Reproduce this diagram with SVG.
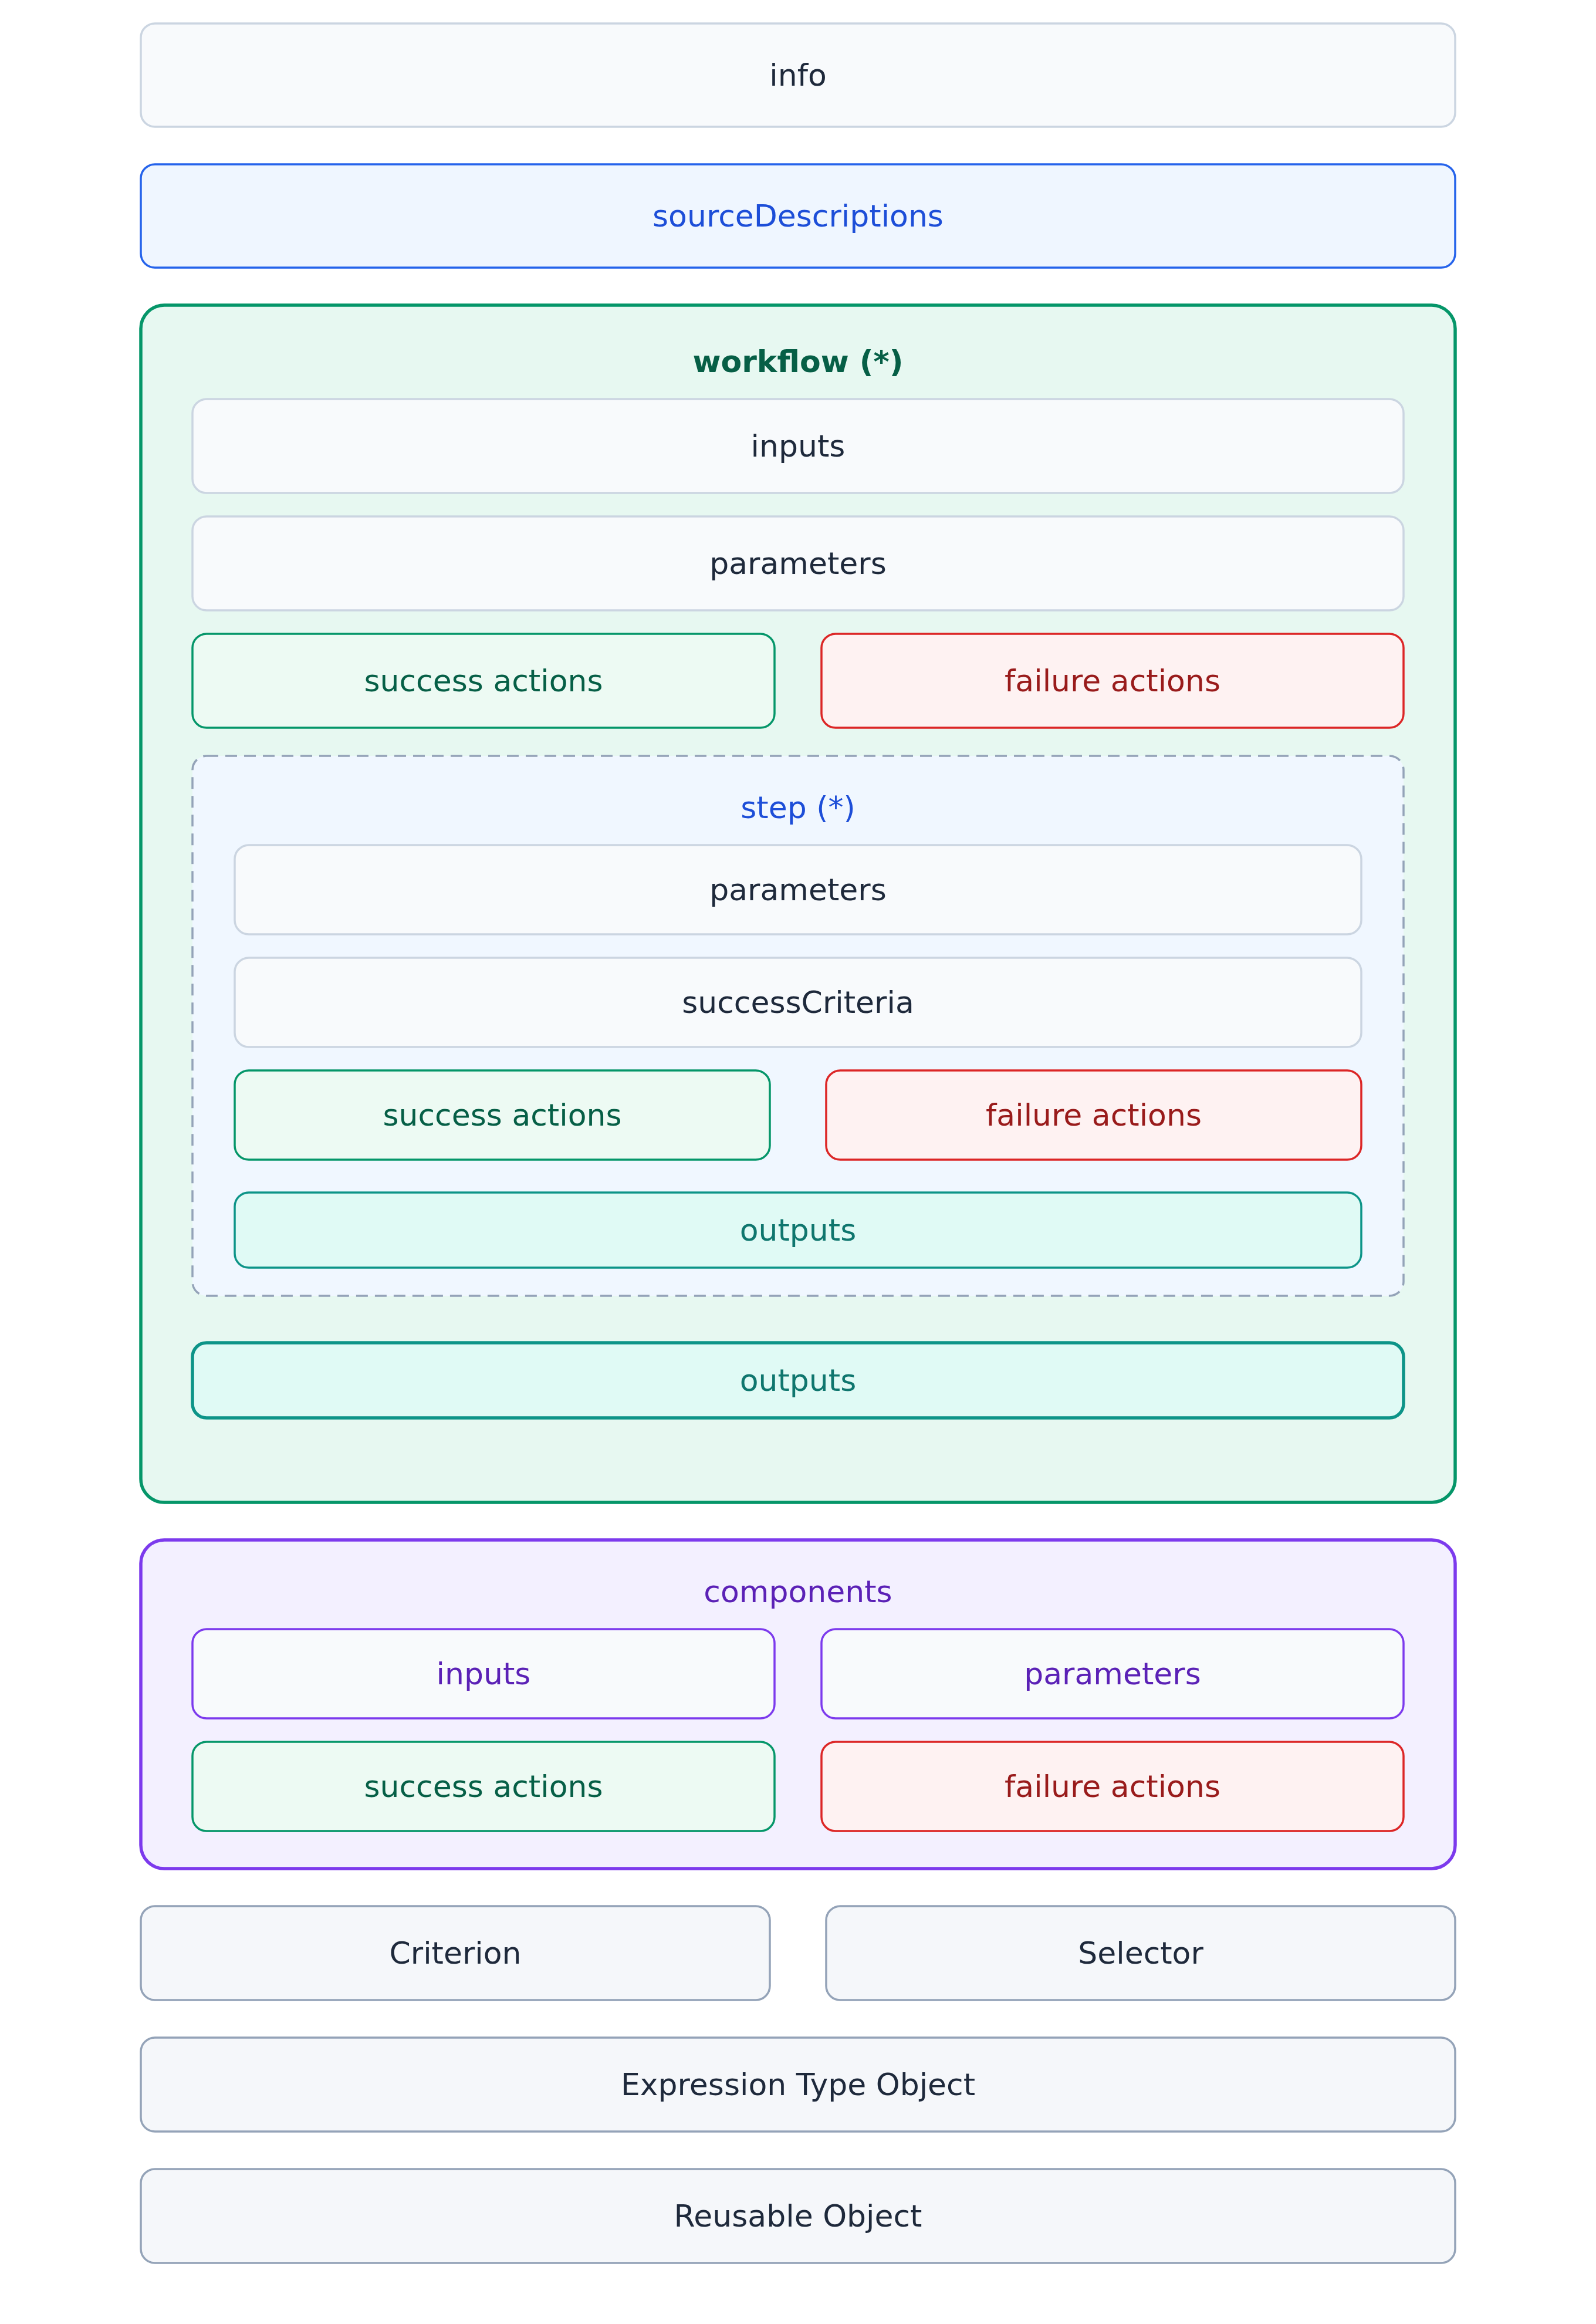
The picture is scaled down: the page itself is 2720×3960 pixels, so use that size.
<svg xmlns="http://www.w3.org/2000/svg" width="2720" height="3960" viewBox="0 0 2720 3960">
<style>
text{font-family:"DejaVu Sans","Liberation Sans",sans-serif;font-size:52px;text-anchor:middle;fill:#1e293b}
.plain{fill:#f8fafc;stroke:#cbd5e1;stroke-width:3.5}
.src{fill:#eff6ff;stroke:#2563eb;stroke-width:3.5}
.wf{fill:#e7f8f1;stroke:#059669;stroke-width:5.5}
.succ{fill:#edfaf3;stroke:#059669;stroke-width:3.5}
.fail{fill:#fef2f2;stroke:#dc2626;stroke-width:3.5}
.out{fill:#e0faf5;stroke:#0d9488;stroke-width:3.5}
.outw{fill:#e0faf5;stroke:#0d9488;stroke-width:5.5}
.step{fill:#f0f7ff;stroke:#94a3b8;stroke-width:3.5;stroke-dasharray:20 12}
.comp{fill:#f3f0ff;stroke:#7c3aed;stroke-width:5.5}
.cin{fill:#f8fafc;stroke:#7c3aed;stroke-width:3.5}
.gray{fill:#f5f7fa;stroke:#94a3b8;stroke-width:3.5}
.tb{fill:#1d4ed8}
.ts{fill:#065f46}
.tf{fill:#991b1b}
.to{fill:#0f766e}
.tp{fill:#5b21b6}
.tw{fill:#065f46;font-weight:bold}
</style>
<rect width="2720" height="3960" fill="#ffffff"/>
<g id="info"><rect class="plain" x="240" y="40" width="2240" height="176" rx="24"/><text x="1360" y="146">info</text></g>
<g id="sourceDescriptions"><rect class="src" x="240" y="280" width="2240" height="176" rx="24"/><text class="tb" x="1360" y="386">sourceDescriptions</text></g>
<g id="workflow">
<rect class="wf" x="240" y="520" width="2240" height="2040" rx="40"/>
<text class="tw" x="1360" y="634">workflow (*)</text>
<g id="wf-inputs"><rect class="plain" x="328" y="680" width="2064" height="160" rx="24"/><text x="1360" y="778">inputs</text></g>
<g id="wf-parameters"><rect class="plain" x="328" y="880" width="2064" height="160" rx="24"/><text x="1360" y="978">parameters</text></g>
<g id="wf-success"><rect class="succ" x="328" y="1080" width="992" height="160" rx="24"/><text class="ts" x="824" y="1178">success actions</text></g>
<g id="wf-failure"><rect class="fail" x="1400" y="1080" width="992" height="160" rx="24"/><text class="tf" x="1896" y="1178">failure actions</text></g>
<g id="step">
<rect class="step" x="328" y="1288" width="2064" height="920" rx="24"/>
<text class="tb" x="1360" y="1394">step (*)</text>
<g id="step-parameters"><rect class="plain" x="400" y="1440" width="1920" height="152" rx="24"/><text x="1360" y="1534">parameters</text></g>
<g id="step-successCriteria"><rect class="plain" x="400" y="1632" width="1920" height="152" rx="24"/><text x="1360" y="1726">successCriteria</text></g>
<g id="step-success"><rect class="succ" x="400" y="1824" width="912" height="152" rx="24"/><text class="ts" x="856" y="1918">success actions</text></g>
<g id="step-failure"><rect class="fail" x="1408" y="1824" width="912" height="152" rx="24"/><text class="tf" x="1864" y="1918">failure actions</text></g>
<g id="step-outputs"><rect class="out" x="400" y="2032" width="1920" height="128" rx="24"/><text class="to" x="1360" y="2114">outputs</text></g>
</g>
<g id="wf-outputs"><rect class="outw" x="328" y="2288" width="2064" height="128" rx="24"/><text class="to" x="1360" y="2370">outputs</text></g>
</g>
<g id="components">
<rect class="comp" x="240" y="2624" width="2240" height="560" rx="40"/>
<text class="tp" x="1360" y="2730">components</text>
<g id="comp-inputs"><rect class="cin" x="328" y="2776" width="992" height="152" rx="24"/><text class="tp" x="824" y="2870">inputs</text></g>
<g id="comp-parameters"><rect class="cin" x="1400" y="2776" width="992" height="152" rx="24"/><text class="tp" x="1896" y="2870">parameters</text></g>
<g id="comp-success"><rect class="succ" x="328" y="2968" width="992" height="152" rx="24"/><text class="ts" x="824" y="3062">success actions</text></g>
<g id="comp-failure"><rect class="fail" x="1400" y="2968" width="992" height="152" rx="24"/><text class="tf" x="1896" y="3062">failure actions</text></g>
</g>
<g id="criterion"><rect class="gray" x="240" y="3248" width="1072" height="160" rx="24"/><text x="776" y="3346">Criterion</text></g>
<g id="selector"><rect class="gray" x="1408" y="3248" width="1072" height="160" rx="24"/><text x="1944" y="3346">Selector</text></g>
<g id="expression-type-object"><rect class="gray" x="240" y="3472" width="2240" height="160" rx="24"/><text x="1360" y="3570">Expression Type Object</text></g>
<g id="reusable-object"><rect class="gray" x="240" y="3696" width="2240" height="160" rx="24"/><text x="1360" y="3794">Reusable Object</text></g>
<g id="connectors"></g>
</svg>
